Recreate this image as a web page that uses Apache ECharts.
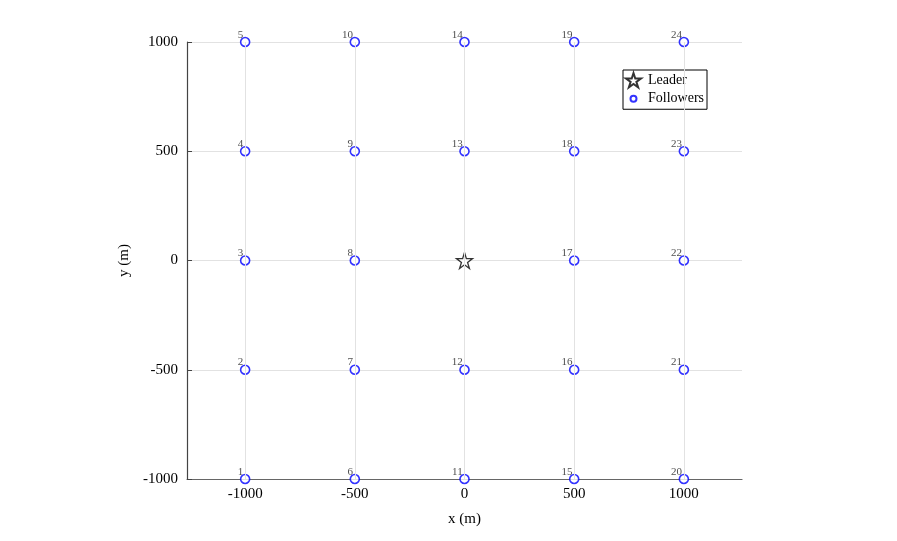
<!DOCTYPE html>
<html><head><meta charset="utf-8">
<script src="https://cdn.jsdelivr.net/npm/echarts@6/dist/echarts.min.js"></script>
<style>html,body{margin:0;padding:0;background:#fff}#c{width:897px;height:541px}</style>
</head><body><div id="c"></div>
<script>
var followersX = [-1000,-1000,-1000,-1000,-1000, -500,-500,-500,-500,-500, 0,0,0,0, 500,500,500,500,500, 1000,1000,1000,1000,1000];
var followersY = [-1000,-500,0,500,1000, -1000,-500,0,500,1000, -1000,-500,500,1000, -1000,-500,0,500,1000, -1000,-500,0,500,1000];
var followerLabels = ['1','2','3','4','5','6','7','8','9','10','11','12','13','14','15','16','17','18','19','20','21','22','23','24'];
var leaderX = [0];
var leaderY = [0];
var xTicks = [-1000,-500,0,500,1000];
var yTicks = [-1000,-500,0,500,1000];

var STAR = 'path://M10 0 L12.245 6.91 L19.511 6.91 L13.633 11.18 L15.878 18.09 L10 13.82 L4.122 18.09 L6.367 11.18 L0.489 6.91 L7.755 6.91 Z';
var SMALL_CIRCLE = 'path://M0 0 M20 20 M10 6 A4 4 0 1 1 9.99 6 Z';
var FONT = '"Liberation Serif", "DejaVu Serif", serif';

var followerData = followersX.map(function(x,i){return {value:[x, followersY[i]], name: followerLabels[i]};});
var leaderData = leaderX.map(function(x,i){return [x, leaderY[i]];});
function fmt(v){return String(v);}

var chart = echarts.init(document.getElementById('c'), null, {renderer:'canvas'});
chart.setOption({
  animation:false,
  backgroundColor:'#fff',
  grid:{left:187, right:155, top:42, bottom:62, containLabel:false},
  xAxis:{
    type:'value', min:-1265, max:1265,
    name:'x (m)', nameLocation:'middle', nameGap:33,
    nameTextStyle:{fontFamily:FONT, fontSize:15, color:'#000'},
    axisLine:{show:true, onZero:false, lineStyle:{color:'#666', width:1.2}},
    axisTick:{show:true, inside:true, length:5, customValues:xTicks, lineStyle:{color:'#666'}},
    axisLabel:{customValues:xTicks, formatter:fmt, fontFamily:FONT, fontSize:15, color:'#000', margin:8},
    splitLine:{show:false}
  },
  yAxis:{
    type:'value', min:-1000, max:1000, interval:500,
    name:'y (m)', nameLocation:'middle', nameGap:55,
    nameTextStyle:{fontFamily:FONT, fontSize:15, color:'#000'},
    axisLine:{show:true, onZero:false, lineStyle:{color:'#444', width:1.2}},
    axisTick:{show:true, inside:true, length:5, lineStyle:{color:'#444'}},
    axisLabel:{formatter:fmt, fontFamily:FONT, fontSize:15, color:'#000', margin:9},
    splitLine:{show:true, lineStyle:{color:'#e2e2e2', width:1}}
  },
  legend:{
    orient:'vertical', left:623, top:70,
    data:[{name:'Leader', icon:STAR}, {name:'Followers', icon:SMALL_CIRCLE}],
    backgroundColor:'#fff', borderColor:'#000', borderWidth:1,
    padding:[2,3,2,2], itemGap:2, itemWidth:15, itemHeight:15,
    textStyle:{fontFamily:FONT, fontSize:14, color:'#000', padding:[0,0,0,2]}
  },
  series:[
    {
      type:'line', data:[], silent:true, z:1,
      markLine:{silent:true, symbol:['none','none'], animation:false,
        label:{show:false},
        lineStyle:{color:'#e2e2e2', width:1, type:'solid'},
        data: xTicks.map(function(v){return {xAxis:v};})
      }
    },
    {
      name:'Followers', type:'scatter', z:3,
      data: followerData,
      symbol:'circle', symbolSize:9,
      itemStyle:{color:'#fff', borderColor:'#0000ff', borderWidth:1.6},
      label:{show:true, formatter:function(p){return p.name;},
        position:[3.5,3.5], align:'right', verticalAlign:'bottom',
        fontFamily:FONT, fontSize:11, color:'#222'}
    },
    {
      name:'Leader', type:'scatter', z:3,
      data: leaderData,
      symbol: STAR, symbolSize:16,
      itemStyle:{color:'#fff', borderColor:'#000', borderWidth:1.3}
    }
  ]
});
</script></body></html>
